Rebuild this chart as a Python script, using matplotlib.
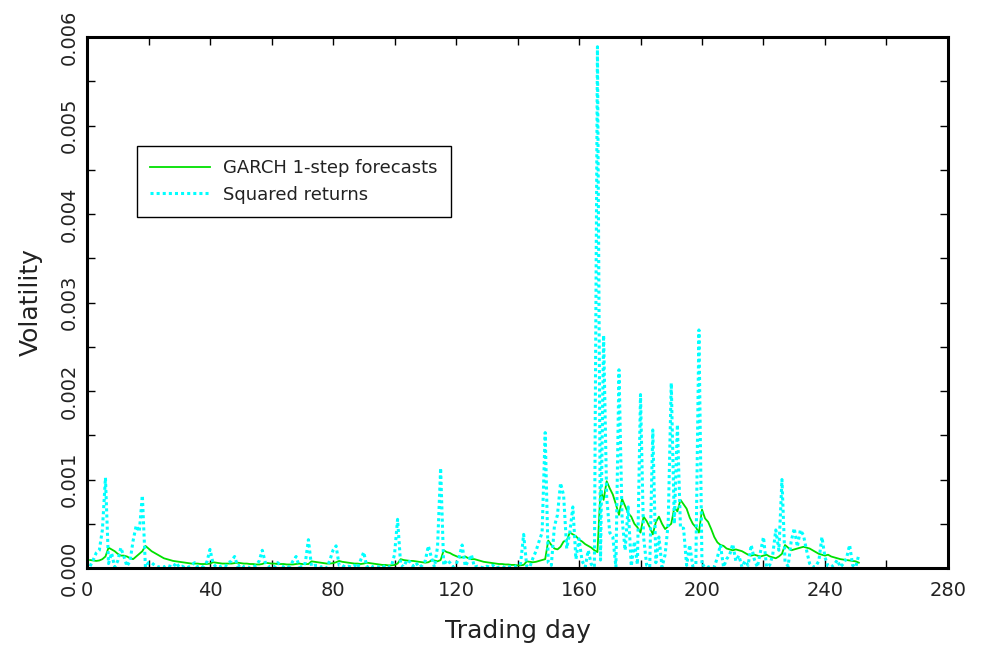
import numpy as np
import matplotlib
matplotlib.use("Agg")
import matplotlib.pyplot as plt
from matplotlib.ticker import MultipleLocator, FormatStrFormatter

# values in units of 1e-4, trading days 1..251
SQUARED_RETURNS = [
    0.2, 0.9, 1.7, 2.0, 4.3, 10.2, 0.5, 1.7, 0.1, 0.8,
    2.3, 1.3, 0.2, 0.8, 3.1, 4.8, 4.1, 8.2, 0.1, 0.6,
    0.6, 0.3, 0.1, 0.2, 0.1, 0.3, 0.2, 0.1, 0.6, 0.1,
    0.2, 0.0, 0.1, 0.3, 0.6, 0.1, 0.0, 0.2, 0.7, 2.1,
    0.5, 0.1, 0.1, 0.3, 0.2, 0.6, 0.8, 1.3, 0.2, 0.4,
    0.1, 0.2, 0.0, 0.1, 0.3, 0.8, 2.0, 0.6, 0.1, 0.2,
    0.1, 0.6, 0.3, 0.1, 0.0, 0.2, 0.8, 1.3, 0.2, 0.1,
    0.6, 3.2, 0.2, 0.3, 0.3, 0.1, 0.2, 0.0, 0.9, 2.0,
    2.5, 0.3, 0.3, 0.1, 0.2, 0.1, 0.3, 0.0, 0.9, 1.8,
    0.1, 0.3, 0.1, 0.2, 0.1, 0.0, 0.3, 0.1, 0.2, 1.5,
    5.5, 0.4, 0.1, 0.9, 0.7, 0.2, 0.6, 0.1, 0.3, 0.8,
    2.5, 1.2, 0.1, 2.4, 11.3, 0.3, 0.9, 0.6, 0.1, 0.4,
    1.2, 2.6, 0.2, 0.8, 1.5, 0.1, 0.2, 0.1, 0.0, 0.2,
    0.1, 0.3, 0.0, 0.1, 0.2, 0.0, 0.1, 0.2, 0.1, 0.3,
    0.5, 3.8, 0.2, 0.1, 1.1, 1.9, 3.0, 4.0, 15.3, 0.6,
    0.3, 4.7, 6.0, 9.6, 8.2, 2.2, 4.0, 6.9, 1.0, 3.3,
    0.8, 0.1, 2.0, 0.4, 0.1, 58.9, 0.9, 26.3, 8.0, 4.0,
    3.5, 0.1, 22.4, 5.6, 2.0, 6.9, 0.2, 3.0, 0.4, 19.6,
    3.5, 0.3, 0.1, 15.6, 0.6, 3.5, 0.1, 1.5, 5.0, 20.9,
    5.0, 16.2, 4.5, 4.5, 0.3, 2.6, 0.2, 0.3, 26.9, 0.2,
    0.4, 0.1, 0.1, 0.1, 1.2, 2.6, 0.1, 1.0, 1.5, 2.7,
    0.8, 1.4, 0.1, 0.8, 0.3, 2.6, 1.0, 0.1, 1.8, 3.5,
    0.1, 0.3, 1.5, 4.3, 2.0, 10.0, 0.7, 0.2, 3.0, 4.5,
    2.4, 4.3, 3.7, 2.0, 0.5, 0.1, 0.2, 0.8, 3.5, 1.2,
    0.2, 0.1, 0.4, 0.9, 0.1, 0.5, 1.1, 2.6, 0.3, 0.1,
    1.5,
]

GARCH_FORECASTS = [
    0.9, 0.85, 0.8, 0.85, 1.0, 1.3, 2.3, 2.1, 1.9, 1.6,
    1.4, 1.4, 1.3, 1.1, 1.0, 1.3, 1.6, 1.9, 2.5, 2.2,
    1.9, 1.7, 1.5, 1.3, 1.1, 1.0, 0.9, 0.8, 0.75, 0.7,
    0.65, 0.6, 0.55, 0.5, 0.5, 0.5, 0.45, 0.45, 0.45, 0.5,
    0.65, 0.6, 0.55, 0.5, 0.5, 0.5, 0.5, 0.55, 0.6, 0.55,
    0.5, 0.5, 0.45, 0.45, 0.4, 0.4, 0.45, 0.6, 0.55, 0.5,
    0.5, 0.45, 0.45, 0.45, 0.4, 0.4, 0.4, 0.45, 0.5, 0.45,
    0.45, 0.45, 0.75, 0.7, 0.65, 0.6, 0.55, 0.5, 0.5, 0.55,
    0.65, 0.8, 0.7, 0.65, 0.6, 0.55, 0.5, 0.5, 0.45, 0.5,
    0.6, 0.55, 0.5, 0.45, 0.4, 0.35, 0.35, 0.3, 0.3, 0.35,
    0.5, 1.0, 0.9, 0.85, 0.8, 0.8, 0.75, 0.7, 0.65, 0.6,
    0.65, 0.85, 0.85, 0.75, 0.9, 2.0, 1.8, 1.7, 1.5, 1.35,
    1.2, 1.2, 1.3, 1.1, 1.0, 1.0, 0.9, 0.8, 0.7, 0.65,
    0.6, 0.55, 0.5, 0.45, 0.45, 0.4, 0.4, 0.35, 0.35, 0.3,
    0.3, 0.35, 0.75, 0.7, 0.65, 0.7, 0.8, 0.9, 1.0, 3.1,
    2.6, 2.2, 2.1, 2.4, 3.0, 3.1, 4.0, 3.8, 3.6, 3.2,
    3.0, 2.7, 2.5, 2.3, 2.0, 1.8, 8.8, 7.7, 9.8, 9.0,
    8.3, 7.2, 6.0, 7.8, 7.0, 6.2, 5.8, 5.0, 4.6, 4.0,
    5.8, 5.3, 4.6, 3.8, 5.2, 5.8, 5.0, 4.4, 4.7, 5.0,
    6.8, 6.4, 7.7, 7.2, 6.7, 5.7, 5.0, 4.6, 4.0, 6.6,
    5.6, 5.2, 4.4, 3.5, 2.9, 2.6, 2.5, 2.2, 2.1, 2.0,
    2.1, 2.0, 1.9, 1.7, 1.5, 1.4, 1.5, 1.4, 1.3, 1.4,
    1.5, 1.3, 1.2, 1.1, 1.3, 1.6, 2.6, 2.3, 2.0, 2.1,
    2.2, 2.3, 2.4, 2.3, 2.2, 2.0, 1.8, 1.6, 1.5, 1.4,
    1.5, 1.3, 1.2, 1.1, 1.0, 0.95, 0.9, 0.85, 0.8, 0.75,
    0.6,
]

days = np.arange(1, len(SQUARED_RETURNS) + 1)
sq_ret = np.array(SQUARED_RETURNS) * 1e-4
garch = np.array(GARCH_FORECASTS) * 1e-4

plt.rcParams['font.family'] = ['DejaVu Sans']

fig = plt.figure(figsize=(9.91, 6.52), dpi=100)
ax = fig.add_axes([87 / 991, 84 / 652, 861 / 991, 531 / 652])

ax.plot(days, garch, color='#00e000', lw=1.3, label='GARCH 1-step forecasts')
ax.plot(days, sq_ret, color='#00ffff', lw=2.2, linestyle=(0, (1, 1)),
        label='Squared returns')

ax.set_xlim(0, 280)
ax.set_ylim(0, 0.006)
ax.xaxis.set_major_locator(MultipleLocator(40))
ax.xaxis.set_minor_locator(MultipleLocator(20))
ax.yaxis.set_major_locator(MultipleLocator(0.001))
ax.yaxis.set_minor_locator(MultipleLocator(0.0005))
ax.yaxis.set_major_formatter(FormatStrFormatter('%.3f'))

for s in ax.spines.values():
    s.set_linewidth(2.2)
    s.set_color('black')

ax.tick_params(which='both', direction='in', top=True, right=True,
               length=6, width=1, color='black')
ax.tick_params(axis='x', labelsize=14, labelcolor='#222222', pad=9)
ax.tick_params(axis='y', labelsize=14, labelcolor='#222222', pad=6,
               labelrotation=90)
for lab in ax.get_yticklabels():
    lab.set_va('center')

ax.set_xlabel('Trading day', fontsize=18, color='#222222', labelpad=14)
ax.set_ylabel('Volatility', fontsize=18, color='#222222', labelpad=12)

leg = ax.legend(loc='upper left', bbox_to_anchor=(0.058, 0.795),
                borderaxespad=0, fancybox=False, framealpha=1,
                edgecolor='black', fontsize=13, handlelength=3.3,
                handletextpad=0.7, labelspacing=0.45, borderpad=0.75)
leg.get_frame().set_linewidth(1.0)
for t in leg.get_texts():
    t.set_color('#222222')

fig.savefig('out.png', dpi=100)
